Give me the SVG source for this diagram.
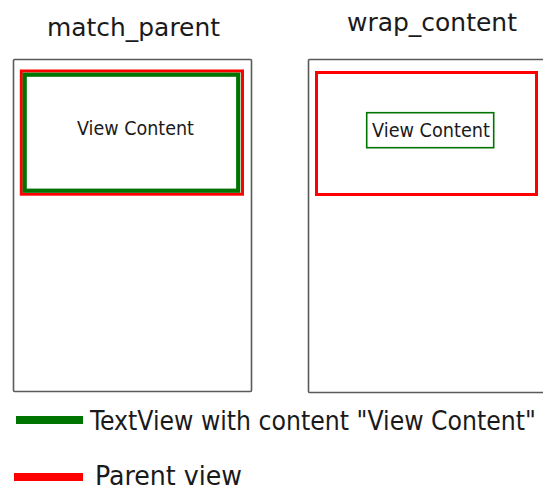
<svg xmlns="http://www.w3.org/2000/svg" width="543" height="491" viewBox="0 0 543 491">
<style>
.frame{fill:#fff;stroke:#5a5a5a;stroke-width:1.6}
.parent{fill:none;stroke:#ff0000;stroke-width:3}
.tv{fill:none;stroke:#007400}
.t{font-family:"DejaVu Sans","Liberation Sans",sans-serif;fill:#1a1a1a}
.lg{font-family:"DejaVu Sans Condensed","DejaVu Sans","Liberation Sans",sans-serif;font-stretch:condensed;fill:#1a1a1a}
</style>
<rect width="543" height="491" fill="#fff"/>
<g id="match_parent">
<text class="t" x="47" y="36" font-size="25" textLength="173" lengthAdjust="spacingAndGlyphs">match_parent</text>
<rect class="frame" x="13.5" y="59.5" width="238" height="332" rx="1"/>
<rect class="parent" x="21.3" y="71" width="221.2" height="123.2"/>
<rect class="tv" x="24.7" y="74.7" width="213.5" height="116" stroke-width="4.2"/>
<text class="t" x="77" y="135" font-size="20" textLength="117" lengthAdjust="spacingAndGlyphs">View Content</text>
</g>
<g id="wrap_content">
<text class="t" x="347" y="31" font-size="25" textLength="170" lengthAdjust="spacingAndGlyphs">wrap_content</text>
<rect class="frame" x="308.5" y="59.5" width="242" height="333" rx="1"/>
<rect class="parent" x="316.5" y="72.5" width="220" height="122"/>
<rect class="tv" x="366.7" y="112.7" width="127" height="35" stroke-width="1.6" stroke="#2a8a2a"/>
<text class="t" x="372" y="137" font-size="20" textLength="118" lengthAdjust="spacingAndGlyphs">View Content</text>
</g>
<g id="legend">
<line x1="16" y1="420" x2="83" y2="420" stroke="#007400" stroke-width="8"/>
<text class="lg" x="90" y="430" font-size="26" textLength="446" lengthAdjust="spacingAndGlyphs">TextView with content "View Content"</text>
<line x1="14" y1="477" x2="83" y2="477" stroke="#ff0000" stroke-width="8"/>
<text class="lg" x="95" y="485" font-size="26" textLength="147" lengthAdjust="spacingAndGlyphs">Parent view</text>
</g>
</svg>
